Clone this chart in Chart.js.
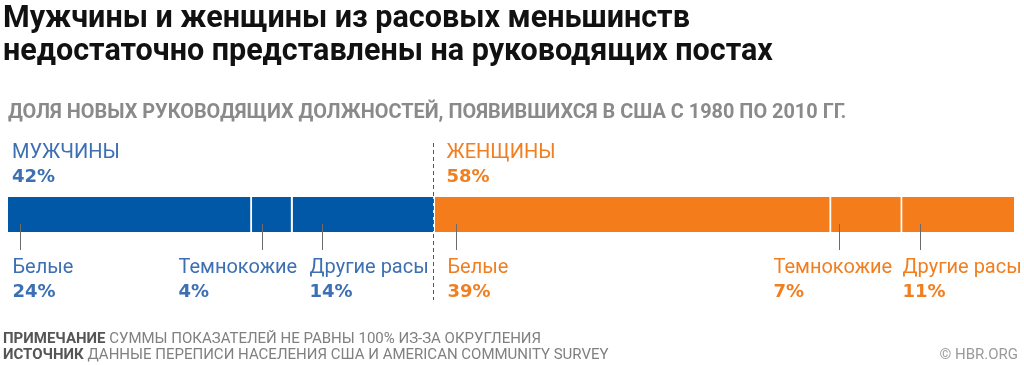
<!DOCTYPE html>
<html>
<head>
<meta charset="utf-8">
<script src="https://cdn.jsdelivr.net/npm/chart.js@4.4.0/dist/chart.umd.min.js"></script>
<style>
  html, body { margin: 0; padding: 0; background: #fff; }
  #wrap { position: relative; width: 1024px; height: 365px; overflow: hidden; font-family: Roboto, sans-serif; }
  #chartBox { position: absolute; left: 0; top: 0; width: 1024px; height: 365px; }
  .title { position: absolute; left: 3px; top: 0px; font-size: 30.5px; font-weight: 700; line-height: 33px; color: #111; white-space: nowrap; }
  .subtitle { position: absolute; left: 8px; top: 100px; font-size: 19.9px; font-weight: 700; color: #8a8a8a; white-space: nowrap; line-height: 24px; }
  .note { position: absolute; left: 3px; font-size: 15px; color: #808080; white-space: nowrap; line-height: 16px; }
  .note b { color: #555; font-weight: 700; }
  .credit { position: absolute; right: 6px; top: 346px; font-size: 15px; color: #9a9a9a; line-height: 16px; }
</style>
</head>
<body>
<div id="wrap">
  <div id="chartBox"><canvas id="chart"></canvas></div>
  <div class="title">Мужчины и женщины из расовых меньшинств<br>недостаточно представлены на руководящих постах</div>
  <div class="subtitle">ДОЛЯ НОВЫХ РУКОВОДЯЩИХ ДОЛЖНОСТЕЙ, ПОЯВИВШИХСЯ В США С 1980 ПО 2010 ГГ.</div>
  <div class="note" style="top:330px"><b>ПРИМЕЧАНИЕ</b> СУММЫ ПОКАЗАТЕЛЕЙ НЕ РАВНЫ 100% ИЗ-ЗА ОКРУГЛЕНИЯ</div>
  <div class="note" style="top:346px"><b>ИСТОЧНИК</b> ДАННЫЕ ПЕРЕПИСИ НАСЕЛЕНИЯ США И AMERICAN COMMUNITY SURVEY</div>
  <div class="credit">© HBR.ORG</div>
</div>
<script>
// data
const groups = ['МУЖЧИНЫ', 'ЖЕНЩИНЫ'];
const groupTotals = [42, 58];
const races = ['Белые', 'Темнокожие', 'Другие расы'];
const menShares = [24, 4, 14];
const womenShares = [39, 7, 11];

// colours
const barColors = ['#0058a6', '#f47c1a'];
const textColors = ['#3d6fb3', '#f07f22'];

// label placement (px): tick offset from segment start, label offset from tick
const tickOffsets = [[12, 10, 29], [21, 8, 18]];
const labelOffsets = [[-8, -84, -13], [-9, -66, -18]];

const nameFont = '400 20px Roboto';
const pctFont = '700 18px "DejaVu Sans"';

const datasets = [];
[menShares, womenShares].forEach((shares, g) => {
    shares.forEach((v, i) => {
        const last = g === 1 && i === shares.length - 1;
        datasets.push({
            label: groups[g] + ' ' + races[i],
            data: [v],
            group: g,
            race: i,
            backgroundColor: barColors[g],
            borderColor: '#ffffff',
            borderWidth: last ? 0 : { left: 0, right: 2, top: 0, bottom: 0 },
            borderSkipped: false
        });
    });
});
const total = menShares.concat(womenShares).reduce((a, b) => a + b, 0);

const annotations = {
    id: 'annotations',
    afterDatasetsDraw(chart) {
        const ctx = chart.ctx;
        const area = chart.chartArea;
        ctx.save();
        let groupStart = [];
        chart.data.datasets.forEach((ds, di) => {
            const el = chart.getDatasetMeta(di).data[0];
            const left = Math.min(el.base, el.x);
            if (ds.race === 0) groupStart[ds.group] = left;
            const tx = Math.round(left + tickOffsets[ds.group][ds.race]) + 0.5;
            // tick
            ctx.strokeStyle = '#6b6b6b';
            ctx.lineWidth = 1;
            ctx.beginPath();
            ctx.moveTo(tx, area.bottom - 8);
            ctx.lineTo(tx, area.bottom + 18);
            ctx.stroke();
            // label
            const lx = tx + labelOffsets[ds.group][ds.race];
            ctx.fillStyle = textColors[ds.group];
            ctx.textAlign = 'left';
            ctx.textBaseline = 'alphabetic';
            ctx.font = nameFont;
            ctx.fillText(races[ds.race], lx, area.bottom + 41);
            ctx.font = pctFont;
            ctx.fillText(ds.data[0] + '%', lx, area.bottom + 65);
        });
        // group divider
        const divX = Math.round(groupStart[1]) - 1.5;
        ctx.strokeStyle = '#555';
        ctx.lineWidth = 1;
        ctx.setLineDash([4, 3]);
        ctx.beginPath();
        ctx.moveTo(divX, area.top - 54);
        ctx.lineTo(divX, area.bottom + 68);
        ctx.stroke();
        ctx.setLineDash([]);
        // group headers
        groups.forEach((name, g) => {
            const hx = g === 0 ? groupStart[0] + 4 : divX + 13;
            ctx.fillStyle = textColors[g];
            ctx.font = nameFont;
            ctx.fillText(name, hx, area.top - 39);
            ctx.font = pctFont;
            ctx.fillText(groupTotals[g] + '%', hx, area.top - 15);
        });
        ctx.restore();
    }
};

new Chart(document.getElementById('chart'), {
    type: 'bar',
    data: { labels: [''], datasets: datasets },
    options: {
        indexAxis: 'y',
        responsive: true,
        maintainAspectRatio: false,
        animation: false,
        layout: { padding: { left: 8, right: 10, top: 197, bottom: 133 } },
        datasets: { bar: { barPercentage: 1, categoryPercentage: 1 } },
        scales: {
            x: { stacked: true, min: 0, max: total, display: false },
            y: { stacked: true, display: false }
        },
        plugins: {
            legend: { display: false },
            tooltip: { enabled: false }
        }
    },
    plugins: [annotations]
});
</script>
</body>
</html>
